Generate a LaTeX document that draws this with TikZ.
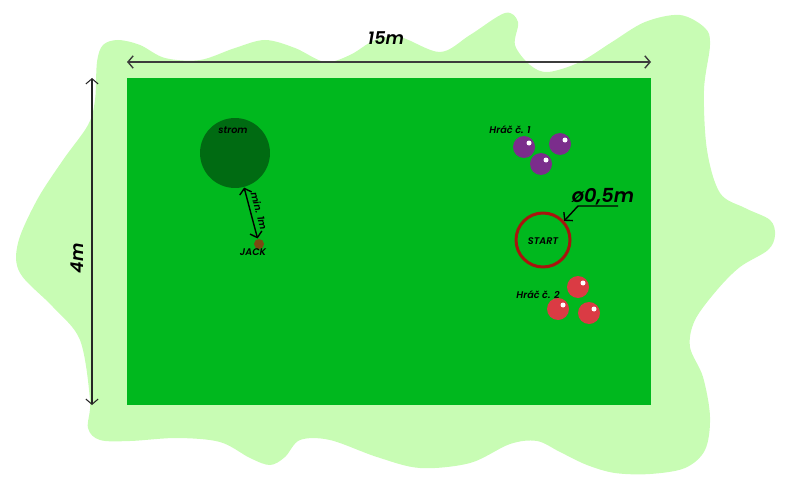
\documentclass[tikz,border=0pt]{standalone}
\usepackage{fontspec}
\setmainfont{Poppins}[BoldFont=Poppins SemiBold, BoldItalicFont=Poppins SemiBold Italic]
\usetikzlibrary{arrows.meta,positioning}
\definecolor{lawn}{HTML}{C8FCB4}
\definecolor{pitch}{HTML}{00B81E}
\definecolor{treegreen}{HTML}{006B12}
\definecolor{jackbrown}{HTML}{7A4A12}
\definecolor{purpball}{HTML}{7B2D8C}
\definecolor{redball}{HTML}{DA3B44}
\definecolor{ringred}{HTML}{A8140E}
\definecolor{dimgray}{HTML}{3C3C3C}

\tikzset{
  ball/.style={circle, fill=#1, minimum size=0.44cm, inner sep=0pt},
  shine/.style={fill=white},
  lbl/.style={font=\fontsize{5.5}{6}\selectfont\itshape\bfseries, text=black},
  dimtext/.style={font=\fontsize{10}{12}\selectfont\itshape\bfseries}
}

\begin{document}
\begin{tikzpicture}[x=0.02cm, y=-0.02cm, >={Straight Barb[length=3pt,width=7pt]}, line width=0.8pt]
  \useasboundingbox (0,0) rectangle (800,500);

  \fill[lawn] plot[smooth cycle, tension=0.55] coordinates {
    (97,62) (103,45) (118,40) (140,45) (165,58) (200,60) (235,48) (265,40)
    (295,48) (325,62) (350,55) (375,40) (400,37) (440,52) (470,35) (505,13)
    (518,22) (515,45) (530,65) (548,72) (580,62) (612,42) (645,22) (680,15)
    (705,28) (710,45) (704,90) (707,150) (720,193) (745,208) (770,220) (775,235)
    (768,250) (740,267) (717,290) (695,320) (690,347) (703,377) (710,417) (705,450)
    (685,468) (650,474) (615,473) (587,465) (560,452) (537,441) (510,444) (470,463)
    (420,468) (377,457) (330,440) (300,440) (285,457) (270,465) (250,458) (220,442)
    (177,438) (130,441) (100,440) (88,428) (90,400) (80,340) (53,307) (20,273)
    (18,243) (37,200) (63,160) (88,125) (95,100)};

  \fill[pitch] (127,78) rectangle (651,405);

  \coordinate (wl) at (127,62);
  \coordinate (wr) at (651,62);
  \draw[<->, dimgray] (wl) -- (wr);
  \node[dimtext] (len) at (386,38) {15m};

  \coordinate (ht) at (92,78);
  \coordinate (hb) at (92,405);
  \draw[<->, black!85, line width=0.6pt] (ht) -- (hb);
  \node[dimtext, rotate=90] (wid) at (77,258) {4m};

  \node[circle, fill=treegreen, minimum size=1.4cm, inner sep=0pt] (tree) at (235,153) {};
  \node[lbl] (treelbl) at (233,130) {strom};
  \node[circle, fill=jackbrown, minimum size=0.2cm, inner sep=0pt] (jack) at (259,244) {};
  \node[lbl] (jacklbl) at (253,252) {JACK};
  \draw[<->, black] (tree) -- node[midway, sloped, above=-1pt, lbl] (gap) {min. 1m} (jack);

  \node[lbl] (p1lbl) at (510,130) {Hráč č. 1};
  \node[ball=purpball] (p1) at (524,147) {};
  \node[ball=purpball] (p2) at (560,144) {};
  \node[ball=purpball] (p3) at (541,164) {};
  \fill[shine] (p1) ++(5,-4) circle (2.5);
  \fill[shine] (p2) ++(5,-4) circle (2.5);
  \fill[shine] (p3) ++(5,-4) circle (2.5);

  \node[circle, draw=ringred, line width=1.7pt, minimum size=1.08cm, inner sep=0pt] (start) at (543,240) {};
  \node[lbl] (startlbl) at (543,241) {START};
  \node[font=\fontsize{11}{13}\selectfont\itshape\bfseries] (dia) at (603,197) {ø0,5m};
  \coordinate (lead) at (618,206);
  \coordinate (knee) at (578,206);
  \draw[->, black] (lead) -- (knee) -- (start.42);

  \node[lbl] (q1lbl) at (538,295) {Hráč č. 2};
  \node[ball=redball] (q1) at (578,287) {};
  \node[ball=redball] (q2) at (558,309) {};
  \node[ball=redball] (q3) at (589,313) {};
  \fill[shine] (q1) ++(5,-4) circle (2.5);
  \fill[shine] (q2) ++(5,-4) circle (2.5);
  \fill[shine] (q3) ++(5,-4) circle (2.5);
\end{tikzpicture}
\end{document}
